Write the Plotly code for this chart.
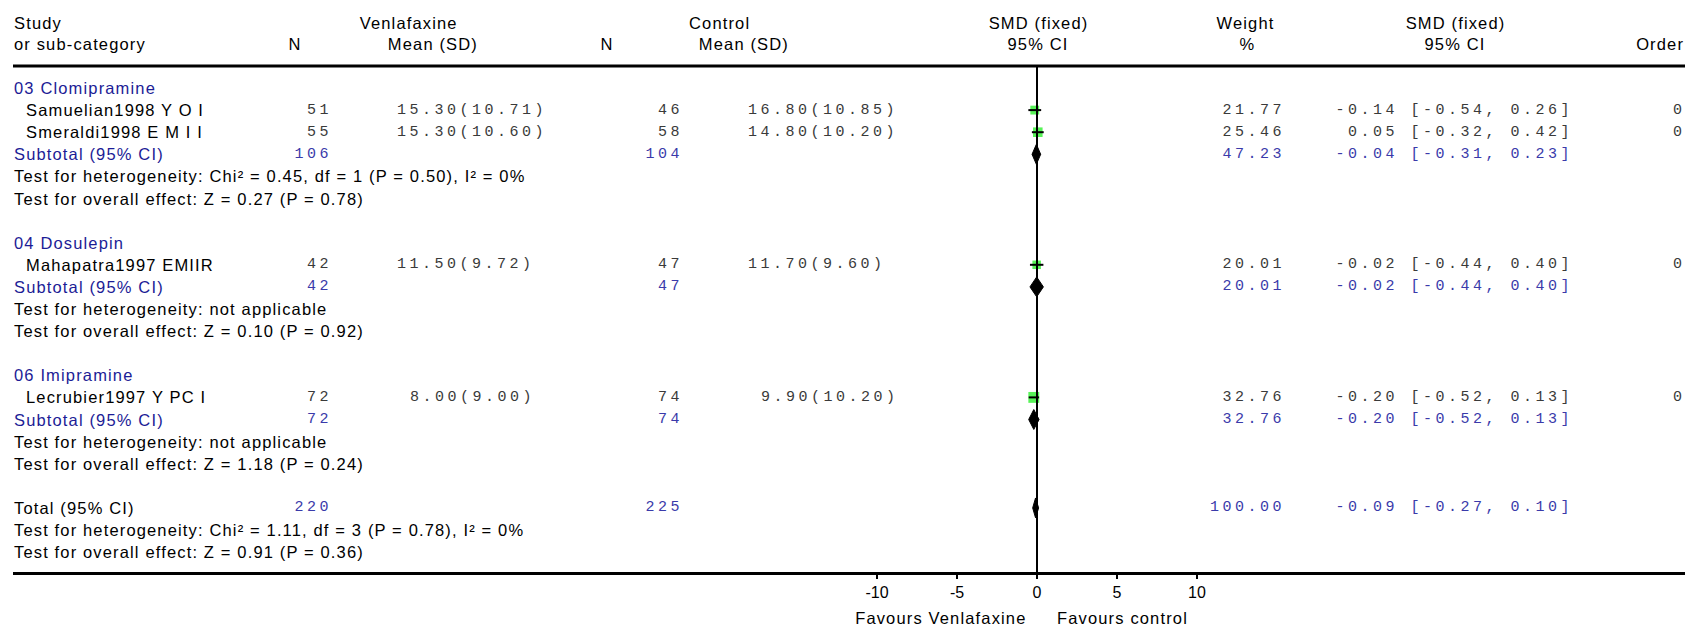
import plotly.graph_objects as go

# ---------------- data ----------------
groups = ["03 Clomipramine", "04 Dosulepin", "06 Imipramine"]
studies = ["Samuelian1998 Y O I", "Smeraldi1998 E M I I", "Mahapatra1997 EMIIR", "Lecrubier1997 Y PC I"]
study_group = [0, 0, 1, 2]
venla_n = [51, 55, 42, 72]
venla_mean = [15.30, 15.30, 11.50, 8.00]
venla_sd = [10.71, 10.60, 9.72, 9.00]
ctrl_n = [46, 58, 47, 74]
ctrl_mean = [16.80, 14.80, 11.70, 9.90]
ctrl_sd = [10.85, 10.20, 9.60, 10.20]
weight = [21.77, 25.46, 20.01, 32.76]
smd = [-0.14, 0.05, -0.02, -0.20]
smd_lo = [-0.54, -0.32, -0.44, -0.52]
smd_hi = [0.26, 0.42, 0.40, 0.13]
order = [0, 0, 0, 0]

sub_venla_n = [106, 42, 72]
sub_ctrl_n = [104, 47, 74]
sub_weight = [47.23, 20.01, 32.76]
sub_smd = [-0.04, -0.02, -0.20]
sub_lo = [-0.31, -0.44, -0.52]
sub_hi = [0.23, 0.40, 0.13]
sub_het = ["Test for heterogeneity: Chi² = 0.45, df = 1 (P = 0.50), I² = 0%",
           "Test for heterogeneity: not applicable",
           "Test for heterogeneity: not applicable"]
sub_overall = ["Test for overall effect: Z = 0.27 (P = 0.78)",
               "Test for overall effect: Z = 0.10 (P = 0.92)",
               "Test for overall effect: Z = 1.18 (P = 0.24)"]

total_venla_n = 220
total_ctrl_n = 225
total_weight = 100.00
total_smd = -0.09
total_lo = -0.27
total_hi = 0.10
total_het = "Test for heterogeneity: Chi² = 1.11, df = 3 (P = 0.78), I² = 0%"
total_overall = "Test for overall effect: Z = 0.91 (P = 0.36)"

tick_vals = [-10, -5, 0, 5, 10]
tick_labels = ["-10", "-5", "0", "5", "10"]
favours_left = "Favours Venlafaxine"
favours_right = "Favours control"

# ---------------- layout constants (pixels) ----------------
W, H = 1688, 627
ROW0_PX, ROW_PX = 88, 22.1
ZERO_PX, UNIT_PX = 1037, 16
LEFT_PX, RIGHT_PX = 13, 1685
AXIS_PX = 573
MONO_LS = 3.5  # letter spacing for monospace numbers
CHAR_PX = 12.5  # advance of monospace char incl. spacing

SANS = "Liberation Sans, Arial, sans-serif"
MONO = "Liberation Mono, Courier New, monospace"
SANS_SIZE = 16.5
BLUE = "#1c1c96"
BLUE_NUM = "#3a3aaa"
GREY_NUM = "#3a3a3a"


def ky(px):
    return (px - ROW0_PX) / ROW_PX


def xp(px):
    return px / W


ann = []


def txt(x_px, k, s, anchor="left", family=SANS, size=SANS_SIZE, color="black"):
    if family == MONO and anchor == "right":
        x_px = x_px + MONO_LS + 1
    ann.append(dict(x=xp(x_px), xref="paper", y=k, yref="y", text=s, showarrow=False,
                    xanchor=anchor, align=anchor, yanchor="middle",
                    font=dict(family=family, size=size, color=color)))


def mono(x_px, k, s, color=GREY_NUM, anchor="right"):
    txt(x_px, k, s, anchor=anchor, family=MONO, size=15, color=color)


# column positions (px)
C_NAME, C_NAME_IND = 12, 24
C_VN, C_VM = 329, 395
C_CN, C_CM = 680, 746
C_W, C_CI, C_ORD = 1282, 1570, 1671

# headers
HK1, HK2 = ky(23), ky(44)
txt(C_NAME, HK1, "Study")
txt(C_NAME, HK2, "or sub-category")
txt(408, HK1, "Venlafaxine", "center")
txt(295, HK2, "N", "center")
txt(433, HK2, "Mean (SD)", "center")
txt(719, HK1, "Control", "center")
txt(607, HK2, "N", "center")
txt(744, HK2, "Mean (SD)", "center")
txt(1038, HK1, "SMD (fixed)", "center")
txt(1038, HK2, "95% CI", "center")
txt(1245, HK1, "Weight", "center")
txt(1247, HK2, "%", "center")
txt(1455, HK1, "SMD (fixed)", "center")
txt(1455, HK2, "95% CI", "center")
txt(1660, HK2, "Order", "center")


def ci_str(e, lo, hi):
    return f"{e:.2f} [{lo:.2f}, {hi:.2f}]"


def mean_sd(m, sd, x0, k):
    ms = f"{m:.2f}"
    pad = max(0, 5 - len(ms))
    mono(x0 + pad * CHAR_PX, k, f"{ms}({sd:.2f})", anchor="left")


study_k, diamonds = [], []
k = 0
for g, gname in enumerate(groups):
    txt(C_NAME, k, gname, color=BLUE)
    k += 1
    for i, s in enumerate(studies):
        if study_group[i] != g:
            continue
        txt(C_NAME_IND, k, s)
        mono(C_VN, k, str(venla_n[i]))
        mean_sd(venla_mean[i], venla_sd[i], C_VM, k)
        mono(C_CN, k, str(ctrl_n[i]))
        mean_sd(ctrl_mean[i], ctrl_sd[i], C_CM, k)
        mono(C_W, k, f"{weight[i]:.2f}")
        mono(C_CI, k, ci_str(smd[i], smd_lo[i], smd_hi[i]))
        mono(C_ORD, k, str(order[i]), anchor="left")
        study_k.append(k)
        k += 1
    txt(C_NAME, k, "Subtotal (95% CI)", color=BLUE)
    mono(C_VN, k, str(sub_venla_n[g]), color=BLUE_NUM)
    mono(C_CN, k, str(sub_ctrl_n[g]), color=BLUE_NUM)
    mono(C_W, k, f"{sub_weight[g]:.2f}", color=BLUE_NUM)
    mono(C_CI, k, ci_str(sub_smd[g], sub_lo[g], sub_hi[g]), color=BLUE_NUM)
    diamonds.append((k, sub_smd[g], sub_lo[g], sub_hi[g]))
    k += 1
    txt(C_NAME, k, sub_het[g])
    k += 1
    txt(C_NAME, k, sub_overall[g])
    k += 2

txt(C_NAME, k, "Total (95% CI)")
mono(C_VN, k, str(total_venla_n), color=BLUE_NUM)
mono(C_CN, k, str(total_ctrl_n), color=BLUE_NUM)
mono(C_W, k, f"{total_weight:.2f}", color=BLUE_NUM)
mono(C_CI, k, ci_str(total_smd, total_lo, total_hi), color=BLUE_NUM)
diamonds.append((k, total_smd, total_lo, total_hi))
txt(C_NAME, k + 1, total_het)
txt(C_NAME, k + 2, total_overall)

FAV_K = ky(618)
txt(1029, FAV_K, favours_left, "right")
txt(1055, FAV_K, favours_right, "left")

# ---------------- traces ----------------
fig = go.Figure()
fig.add_trace(go.Scatter(
    x=smd, y=study_k, mode="markers",
    marker=dict(symbol="square", color="#11ee11", size=[1.9 * w ** 0.5 for w in weight],
                line=dict(width=0)),
    hoverinfo="skip"))
cx, cy = [], []
for kk, lo, hi in zip(study_k, smd_lo, smd_hi):
    cx += [lo, hi, None]
    cy += [kk, kk, None]
fig.add_trace(go.Scatter(x=cx, y=cy, mode="lines", line=dict(color="black", width=2), hoverinfo="skip"))
for kk, e, lo, hi in diamonds:
    fig.add_trace(go.Scatter(
        x=[lo, e, hi, e, lo], y=[kk, kk - 0.45, kk, kk + 0.45, kk],
        mode="lines", fill="toself", fillcolor="black",
        line=dict(color="black", width=1), hoverinfo="skip"))

shapes = [
    dict(type="line", xref="paper", yref="y", x0=xp(LEFT_PX), x1=xp(RIGHT_PX),
         y0=ky(66), y1=ky(66), line=dict(color="black", width=3)),
    dict(type="line", xref="x", yref="y", x0=0, x1=0, y0=ky(66), y1=ky(AXIS_PX),
         line=dict(color="black", width=2)),
]

fig.update_layout(
    width=W, height=H, margin=dict(l=0, r=0, t=0, b=0),
    paper_bgcolor="white", plot_bgcolor="white", showlegend=False,
    annotations=ann, shapes=shapes,
    xaxis=dict(domain=[xp(LEFT_PX), xp(RIGHT_PX)],
               range=[(LEFT_PX - ZERO_PX) / UNIT_PX, (RIGHT_PX - ZERO_PX) / UNIT_PX],
               anchor="free", position=(H - AXIS_PX) / H,
               showline=True, linecolor="black", linewidth=2.5,
               ticks="outside", ticklen=4, tickwidth=1.5, tickcolor="black",
               tickvals=tick_vals, ticktext=tick_labels,
               tickfont=dict(family=SANS, size=16, color="black"),
               showgrid=False, zeroline=False, fixedrange=True),
    yaxis=dict(domain=[0, 1], range=[ky(H), ky(0)], visible=False,
               showgrid=False, zeroline=False, fixedrange=True),
)

post = """
document.body.style.margin = '0';
document.body.style.padding = '0';
document.body.style.overflow = 'hidden';
var gd = document.getElementById('{plot_id}');
function applyLS(){
  gd.querySelectorAll('text.annotation-text').forEach(function(t){
    var f = t.style.fontFamily || '';
    if (f.indexOf('Mono') >= 0) { t.style.letterSpacing = '3.5px'; }
    else { t.style.letterSpacing = '1.15px'; }
  });
}
applyLS();
if (gd.on) { gd.on('plotly_afterplot', applyLS); }
"""

fig.write_html("out.html", post_script=post, config={"displayModeBar": False})
